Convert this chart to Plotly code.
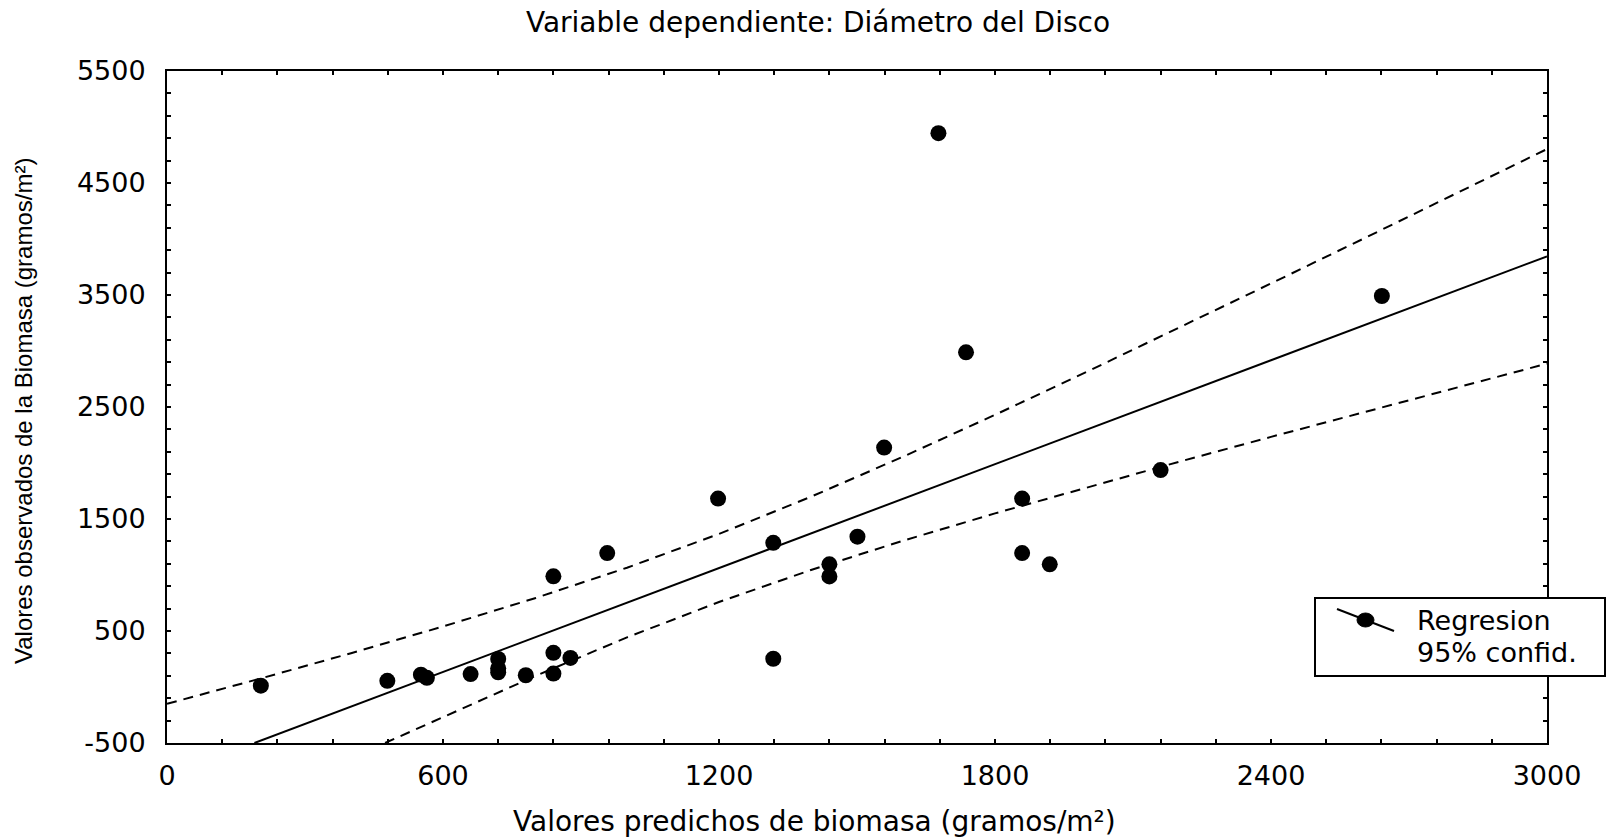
import plotly.graph_objects as go

# Observed points: predicted biomass (x) vs observed biomass (y)
pred_x = [204, 479, 552, 565, 660, 720, 720, 720, 780, 840, 840, 877, 840, 957,
          1198, 1318, 1318, 1440, 1440, 1501, 1559, 1677, 1737, 1859, 1859, 1919,
          2160, 2641]
obs_y = [12, 55, 110, 82, 115, 250, 167, 132, 105, 305, 120, 260, 988, 1196,
         1682, 1287, 252, 1095, 987, 1342, 2138, 4945, 2988, 1682, 1196, 1095,
         1937, 3491]

# Regression line
reg_x = [190, 3000]
reg_y = [-500, 3845]

# 95% confidence band
up_x = [0, 200, 400, 600, 800, 1000, 1200, 1400, 1600, 1800, 2000, 2200, 2400, 2600, 2800, 3000]
up_y = [-150, 72, 302, 540, 793, 1065, 1367, 1699, 2056, 2430, 2815, 3207, 3603, 4001, 4401, 4803]
lo_x = [474, 600, 800, 1000, 1200, 1400, 1600, 1800, 2000, 2200, 2400, 2600, 2800, 3000]
lo_y = [-500, -270, 97, 443, 759, 1045, 1306, 1550, 1783, 2011, 2233, 2453, 2671, 2887]

# Tick labels
x_ticks = [0, 600, 1200, 1800, 2400, 3000]
x_ticktext = ["0", "600", "1200", "1800", "2400", "3000"]
y_ticks = [-500, 500, 1500, 2500, 3500, 4500, 5500]
y_ticktext = ["-500", "500", "1500", "2500", "3500", "4500", "5500"]

FONT_H = "DejaVu Sans"
FONT_V = "Liberation Sans, Arial"

fig = go.Figure()
fig.add_trace(go.Scatter(x=reg_x, y=reg_y, mode="lines",
                         line=dict(color="black", width=2), showlegend=False, hoverinfo="skip"))
fig.add_trace(go.Scatter(x=up_x, y=up_y, mode="lines",
                         line=dict(color="black", width=2, dash="10px,7px"), showlegend=False))
fig.add_trace(go.Scatter(x=lo_x, y=lo_y, mode="lines",
                         line=dict(color="black", width=2, dash="10px,7px"), showlegend=False))
fig.add_trace(go.Scatter(x=pred_x, y=obs_y, mode="markers",
                         marker=dict(color="black", size=16, symbol="circle"),
                         showlegend=False))

L, R, T, B = 167, 59, 71, 95
W, H = 1606, 838
PW, PH = W - L - R, H - T - B

def px2paper(px, py):
    return (px - L) / PW, (H - B - py) / PH

axis_common = dict(showline=True, linecolor="black", linewidth=2, mirror="allticks",
                   ticks="inside", ticklen=4, tickwidth=1.5, tickcolor="black",
                   showgrid=False, zeroline=False, tickmode="array",
                   tickfont=dict(family=FONT_H, size=27, color="black"))

fig.update_xaxes(range=[0, 3000], tickvals=x_ticks, ticktext=x_ticktext,
                 minor=dict(ticks="inside", dtick=120, tick0=0, ticklen=4, tickwidth=1.5,
                            tickcolor="black", showgrid=False),
                 ticklabelstandoff=8, **axis_common)
fig.update_yaxes(range=[-500, 5500], tickvals=y_ticks, ticktext=y_ticktext,
                 minor=dict(ticks="inside", dtick=200, tick0=-500, ticklen=4, tickwidth=1.5,
                            tickcolor="black", showgrid=False),
                 ticklabelstandoff=14, **axis_common)

# Legend drawn as box + symbol + text
bx0, by0 = px2paper(1315, 598)
bx1, by1 = px2paper(1605, 676)
shapes = [
    dict(type="rect", xref="paper", yref="paper", x0=bx0, y0=by1, x1=bx1, y1=by0,
         fillcolor="white", line=dict(color="black", width=2), layer="above"),
]
lx0, ly0 = px2paper(1337, 609)
lx1, ly1 = px2paper(1394, 631)
shapes.append(dict(type="line", xref="paper", yref="paper", x0=lx0, y0=ly0, x1=lx1, y1=ly1,
                   line=dict(color="black", width=2), layer="above"))
cx0, cy0 = px2paper(1357, 613)
cx1, cy1 = px2paper(1374, 627)
shapes.append(dict(type="circle", xref="paper", yref="paper", x0=cx0, y0=cy1, x1=cx1, y1=cy0,
                   fillcolor="black", line=dict(color="black", width=1), layer="above"))

ann = []
tx, ty1 = px2paper(1415, 620)
_, ty2 = px2paper(1415, 652)
ann.append(dict(text="Regresion", xref="paper", yref="paper", x=tx, y=ty1, xanchor="left",
                yanchor="middle", showarrow=False, font=dict(family=FONT_H, size=27, color="black")))
ann.append(dict(text="95% confid.", xref="paper", yref="paper", x=tx, y=ty2, xanchor="left",
                yanchor="middle", showarrow=False, font=dict(family=FONT_H, size=27, color="black")))

xtx, xty = px2paper(814, 821)
ann.append(dict(text="Valores predichos de biomasa (gramos/m²)", xref="paper", yref="paper",
                x=xtx, y=xty, xanchor="center", yanchor="middle", showarrow=False,
                font=dict(family=FONT_H, size=28, color="black")))
ytx, yty = px2paper(23, 411)
ann.append(dict(text="Valores observados de la Biomasa (gramos/m²)", xref="paper", yref="paper",
                x=ytx, y=yty, xanchor="center", yanchor="middle", textangle=-90, showarrow=False,
                font=dict(family=FONT_V, size=24, color="black")))

fig.update_layout(
    width=W, height=H,
    margin=dict(l=L, r=R, t=T, b=B),
    paper_bgcolor="white", plot_bgcolor="white",
    title=dict(text="Variable dependiente: Diámetro del Disco", x=818 / W, xref="container",
               xanchor="center", y=1 - 22.5 / H, yref="container", yanchor="middle",
               font=dict(family=FONT_H, size=28, color="black")),
    shapes=shapes, annotations=ann, showlegend=False,
)

fig.write_html("out.html", config={"displayModeBar": False},
               post_script="document.body.style.margin='0';document.body.style.overflow='hidden';")
